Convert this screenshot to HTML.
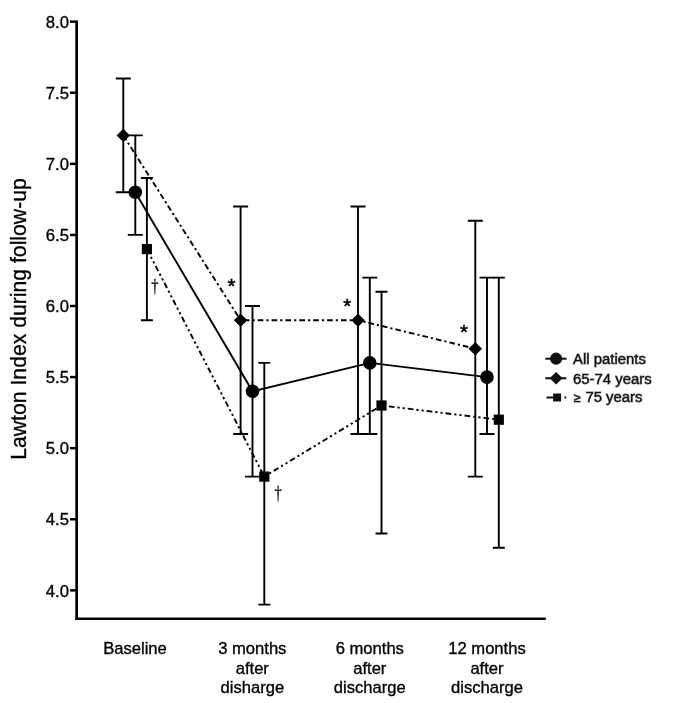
<!DOCTYPE html>
<html><head><meta charset="utf-8"><title>Lawton Index during follow-up</title>
<style>
html,body{margin:0;padding:0;background:#fff;}
body{width:685px;height:703px;overflow:hidden;}
svg{display:block;}
text{font-family:"Liberation Sans",Arial,Helvetica,sans-serif;fill:#000;stroke:#000;stroke-width:0.33px;}
.tk{font-size:16.7px;text-anchor:end;}
.xl{font-size:16.6px;text-anchor:middle;}
.lg{font-size:14.9px;fill:#111;stroke:#777;stroke-width:0.9px;paint-order:stroke;}
.yl{font-size:21.2px;text-anchor:middle;}
.an{font-size:20.5px;text-anchor:middle;stroke-width:0.5px;}
.dg{font-size:16px;text-anchor:middle;fill:#000;stroke:#000;stroke-width:0.25px;font-family:"Liberation Serif",serif;}
</style></head><body>
<svg width="685" height="703" viewBox="0 0 685 703">
<rect width="685" height="703" fill="#fff"/>

<g stroke="#000" fill="none">
<path d="M76.65 20.4V620" stroke-width="2.7"/>
<path d="M75.3 618.75H545.8" stroke-width="2.6"/>
<path d="M70 21.65H76" stroke-width="2.5"/>
<path d="M70 92.74H76" stroke-width="2.5"/>
<path d="M70 163.83H76" stroke-width="2.5"/>
<path d="M70 234.91H76" stroke-width="2.5"/>
<path d="M70 306.00H76" stroke-width="2.5"/>
<path d="M70 377.09H76" stroke-width="2.5"/>
<path d="M70 448.18H76" stroke-width="2.5"/>
<path d="M70 519.26H76" stroke-width="2.5"/>
<path d="M70 590.35H76" stroke-width="2.5"/>
</g>
<text class="tk" x="69.0" y="27.8">8.0</text>
<text class="tk" x="69.0" y="98.8">7.5</text>
<text class="tk" x="69.0" y="169.9">7.0</text>
<text class="tk" x="69.0" y="241.0">6.5</text>
<text class="tk" x="69.0" y="312.1">6.0</text>
<text class="tk" x="69.0" y="383.2">5.5</text>
<text class="tk" x="69.0" y="454.3">5.0</text>
<text class="tk" x="69.0" y="525.4">4.5</text>
<text class="tk" x="69.0" y="596.5">4.0</text>
<g stroke="#000" fill="none" stroke-width="1.9">
<path d="M123.3 78.5V192.3M115.8 78.5H130.8M115.8 192.3H130.8"/>
<path d="M240.6 206.5V434.0M233.1 206.5H248.1M233.1 434.0H248.1"/>
<path d="M358.0 206.5V434.0M350.5 206.5H365.5M350.5 434.0H365.5"/>
<path d="M475.3 220.7V476.6M467.8 220.7H482.8M467.8 476.6H482.8"/>
<path d="M135.3 135.4V234.9M127.8 135.4H142.8M127.8 234.9H142.8"/>
<path d="M252.5 306.0V476.6M245.0 306.0H260.0M245.0 476.6H260.0"/>
<path d="M369.8 277.6V434.0M362.3 277.6H377.3M362.3 434.0H377.3"/>
<path d="M487.0 277.6V434.0M479.5 277.6H494.5M479.5 434.0H494.5"/>
<path d="M146.9 178.0V320.2M140.9 178.0H152.9M140.9 320.2H152.9"/>
<path d="M264.3 362.9V604.6M258.3 362.9H270.3M258.3 604.6H270.3"/>
<path d="M381.5 291.8V533.5M375.5 291.8H387.5M375.5 533.5H387.5"/>
<path d="M498.8 277.6V547.7M492.8 277.6H504.8M492.8 547.7H504.8"/>
</g>
<polyline points="123.3,135.4 240.6,320.2 358.0,320.2 475.3,348.7" fill="none" stroke="#000" stroke-width="1.9" stroke-dasharray="5.7 2.99 2.2 2.99"/>
<polyline points="135.3,192.3 252.5,391.3 369.8,362.9 487.0,377.1" fill="none" stroke="#000" stroke-width="1.9" />
<polyline points="146.9,249.1 264.3,476.6 381.5,405.5 498.8,419.7" fill="none" stroke="#000" stroke-width="1.9" stroke-dasharray="5.7 2.99 2.2 2.99 2.2 2.99"/>
<path d="M116.6 135.4L123.3 128.7L130.0 135.4L123.3 142.1Z" fill="#000"/>
<path d="M233.9 320.2L240.6 313.5L247.3 320.2L240.6 326.9Z" fill="#000"/>
<path d="M351.3 320.2L358.0 313.5L364.7 320.2L358.0 326.9Z" fill="#000"/>
<path d="M468.6 348.7L475.3 342.0L482.0 348.7L475.3 355.4Z" fill="#000"/>
<circle cx="135.3" cy="192.3" r="6.8" fill="#000"/>
<circle cx="252.5" cy="391.3" r="6.8" fill="#000"/>
<circle cx="369.8" cy="362.9" r="6.8" fill="#000"/>
<circle cx="487.0" cy="377.1" r="6.8" fill="#000"/>
<rect x="141.8" y="244.0" width="10.2" height="10.2" fill="#000"/>
<rect x="259.2" y="471.5" width="10.2" height="10.2" fill="#000"/>
<rect x="376.4" y="400.4" width="10.2" height="10.2" fill="#000"/>
<rect x="493.7" y="414.6" width="10.2" height="10.2" fill="#000"/>
<text class="an" x="231.4" y="293.2">*</text>
<text class="an" x="347.2" y="313.1">*</text>
<text class="an" x="463.9" y="338.9">*</text>
<text class="dg" transform="translate(154.8 291.8) scale(0.9 1.2)">†</text>
<text class="dg" transform="translate(278.0 499.2) scale(0.9 1.2)">†</text>
<text class="xl" x="135.0" y="653.7">Baseline</text>
<text class="xl" x="252.3" y="653.7">3 months</text>
<text class="xl" x="252.3" y="673.5">after</text>
<text class="xl" x="252.3" y="692.7">disharge</text>
<text class="xl" x="369.8" y="653.7">6 months</text>
<text class="xl" x="369.8" y="673.5">after</text>
<text class="xl" x="369.8" y="692.7">discharge</text>
<text class="xl" x="487.0" y="653.7">12 months</text>
<text class="xl" x="487.0" y="673.5">after</text>
<text class="xl" x="487.0" y="692.7">discharge</text>
<text class="yl" transform="translate(25.9 319) rotate(-90)">Lawton Index during follow-up</text>
<g>
<g stroke="#111" stroke-width="2" fill="none">
<path d="M545.3 358.7H566.6"/>
<path d="M545.3 378.3H552M560 378.3H566.3"/>
<path d="M546.5 397.5H553.5M564.5 397.5H566.3"/>
</g>
<circle cx="556.1" cy="358.7" r="6.1" fill="#111"/>
<path d="M549.6 378.3L556.1 372.1L562.6 378.3L556.1 384.5Z" fill="#111"/>
<rect x="553.1" y="393.5" width="8" height="8" fill="#111"/>
<text class="lg" x="573" y="363.8">All patients</text>
<text class="lg" x="573" y="383.8">65-74 years</text>
<text class="lg" x="574" y="402" style="font-size:12.5px">≥</text>
<text class="lg" x="585.4" y="402">75 years</text>
</g>
</svg></body></html>
